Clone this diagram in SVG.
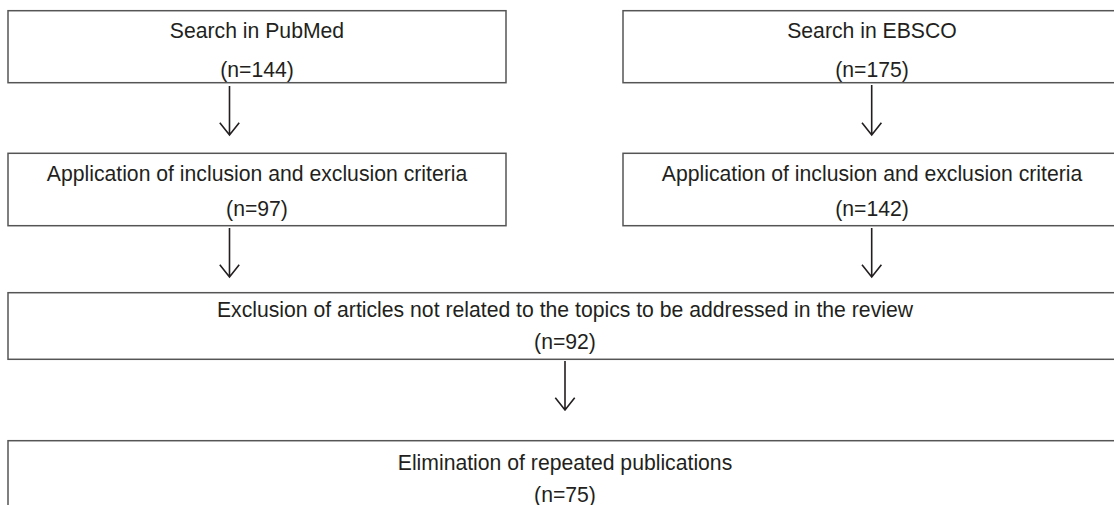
<svg xmlns="http://www.w3.org/2000/svg" width="1114" height="505" viewBox="0 0 1114 505">
<style>
.box{fill:#fff;stroke:#555;stroke-width:1.5}
.t{font-family:"Liberation Sans",Arial,sans-serif;font-size:21.2px;fill:#231f20;text-anchor:middle}
.c{fill:none;stroke:#231f20;stroke-width:1.6}
</style>
<rect width="1114" height="505" fill="#fff"/>
<g id="pubmed">
<rect class="box" x="8" y="10.7" width="498" height="72"/>
<text class="t" x="257" y="37.5">Search in PubMed</text>
<text class="t" x="257" y="76.5">(n=144)</text>
</g>
<g id="ebsco">
<rect class="box" x="623" y="10.7" width="498" height="72"/>
<text class="t" x="872" y="37.5">Search in EBSCO</text>
<text class="t" x="872" y="76.5">(n=175)</text>
</g>
<g id="criteria-left">
<rect class="box" x="8" y="153.3" width="498" height="72.4"/>
<text class="t" x="257" y="181">Application of inclusion and exclusion criteria</text>
<text class="t" x="257" y="216">(n=97)</text>
</g>
<g id="criteria-right">
<rect class="box" x="623" y="153.3" width="498" height="72.4"/>
<text class="t" x="872" y="181">Application of inclusion and exclusion criteria</text>
<text class="t" x="872" y="216">(n=142)</text>
</g>
<g id="exclusion">
<rect class="box" x="8" y="292.7" width="1113" height="66.6"/>
<text class="t" x="565" y="316.5">Exclusion of articles not related to the topics to be addressed in the review</text>
<text class="t" x="565" y="348.5">(n=92)</text>
</g>
<g id="elimination">
<rect class="box" x="8" y="440.7" width="1113" height="80"/>
<text class="t" x="565" y="470">Elimination of repeated publications</text>
<text class="t" x="565" y="502">(n=75)</text>
</g>
<g id="connectors">
<path class="c" d="M229.5 86V135M219.8 122.7L229.5 135L239.2 122.7"/>
<path class="c" d="M871.7 85V135M862 122.7L871.7 135L881.4 122.7"/>
<path class="c" d="M229.5 228V277M219.8 264.7L229.5 277L239.2 264.7"/>
<path class="c" d="M871.7 228V277M862 264.7L871.7 277L881.4 264.7"/>
<path class="c" d="M565 361V410M555.3 397.7L565 410L574.7 397.7"/>
</g>
</svg>
